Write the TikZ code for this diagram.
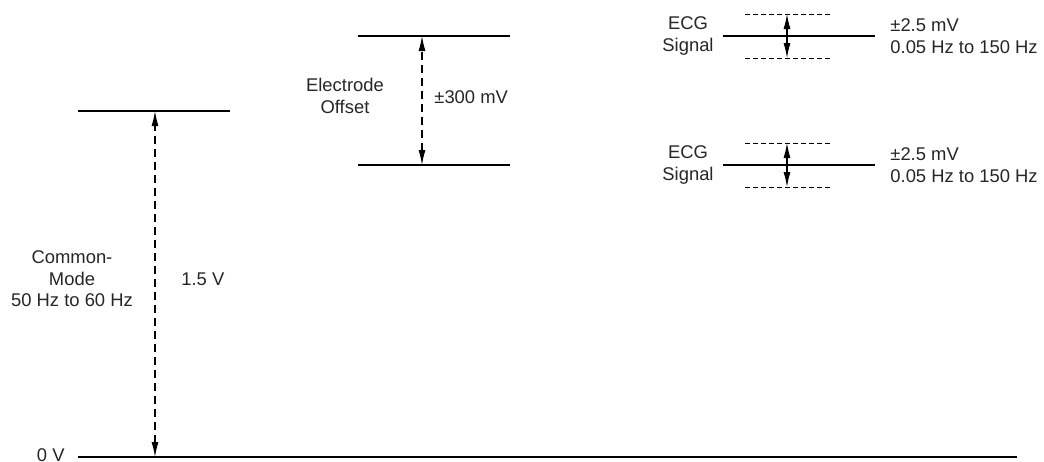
\documentclass[tikz,border=0pt]{standalone}
\usepackage{fontspec}
\setmainfont{Liberation Sans}
\usetikzlibrary{arrows.meta}

\begin{document}
\begin{tikzpicture}[x=1pt, y=-1pt, thick,
        every node/.style={font=\fontsize{18.4}{21.5}\selectfont, inner sep=1pt, text=black!85},
        level/.style={line width=1.1pt},
        swing/.style={line width=0.9pt, dash pattern=on 5pt off 3pt},
        span/.style={line width=1.1pt, dash pattern=on 8pt off 5pt, {Latex[length=15pt,width=7pt]}-{Latex[length=15pt,width=7pt]}},
        half/.style={line width=1.1pt, -{Latex[length=15pt,width=7pt]}}]
        \useasboundingbox (0,0) rectangle (1044,461);

        % Levels
        \coordinate (G0) at (78,457);   % 0 V ground
        \coordinate (G1) at (1017,457);
        \coordinate (CM0) at (78,111);  % common-mode top
        \coordinate (CM1) at (230,111);
        \coordinate (EOa0) at (358,36); % electrode offset top
        \coordinate (EOa1) at (510,36);
        \coordinate (EOb0) at (358,165); % electrode offset bottom
        \coordinate (EOb1) at (510,165);

        % Draw levels
        \draw[level] (G0) -- (G1);
        \draw[level] (CM0) -- (CM1);
        \draw[level] (EOa0) -- (EOa1);
        \draw[level] (EOb0) -- (EOb1);

        % Spans
        \draw[span] (155,457) -- (155,111);
        \draw[span] (422,165) -- (422,36);

        % ECG signals on both electrode levels
        \foreach \ya/\name in {36/top, 165/bot} {
            \coordinate (ecg-\name) at (787,\ya);
            \draw[level] (723,\ya) -- (875,\ya);
            \draw[swing] (745,\ya-22) -- (830,\ya-22);
            \draw[swing] (745,\ya+22) -- (830,\ya+22);
            \draw[half] (ecg-\name) -- ++(0,-22);
            \draw[half] (ecg-\name) -- ++(0,22);
            \node[align=center] (lbl-\name) at (688,\ya) {ECG\\Signal};
            \node[align=left, anchor=west] (val-\name) at (889,\ya) {\textpm2.5 mV\\0.05 Hz to 150 Hz};
        }

        % Labels
        \node[anchor=east] (zero) at (66,455) {0 V};
        \node[align=center] (cm) at (72,279) {Common-\\Mode\\50 Hz to 60 Hz};
        \node[anchor=west] (cmv) at (180,279) {1.5 V};
        \node[align=center] (eo) at (345,96) {Electrode\\Offset};
        \node[anchor=west] (eov) at (433,97) {\textpm300 mV};
    \end{tikzpicture}
\end{document}
